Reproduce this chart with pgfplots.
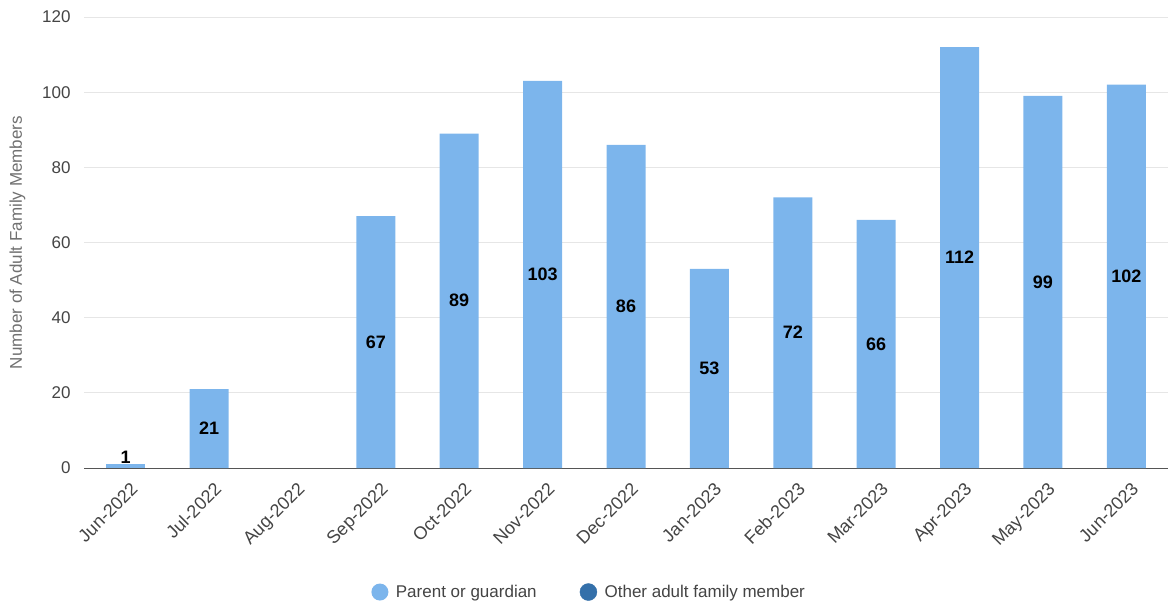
\documentclass[border=0pt]{standalone}
\usepackage{pgfplots}
\pgfplotsset{compat=1.18}
\usepackage{fontspec}
\setmainfont{Liberation Sans}
\definecolor{barblue}{HTML}{7CB5EC}
\definecolor{darkblue}{HTML}{3470AA}
\definecolor{gridgray}{HTML}{E6E6E6}
\definecolor{ticktext}{HTML}{444444}
\definecolor{labeltext}{HTML}{707070}
\definecolor{axisgray}{HTML}{555555}
\newcommand{\fs}{\fontsize{17bp}{20bp}\selectfont}
\newcommand{\fx}{\fontsize{18bp}{20bp}\selectfont}
\begin{document}
\begin{tikzpicture}
\begin{axis}[
  name=ax,
  scale only axis, width=1084bp, height=451bp,
  xmin=-0.5, xmax=12.5, ymin=0, ymax=120,
  ytick={0,20,...,120},
  xtick={0,...,12},
  xticklabels={Jun-2022,Jul-2022,Aug-2022,Sep-2022,Oct-2022,Nov-2022,Dec-2022,Jan-2023,Feb-2023,Mar-2023,Apr-2023,May-2023,Jun-2023},
  x tick label style={rotate=45, anchor=north east, font=\fx, text=ticktext, yshift=-9bp, xshift=-3bp},
  y tick label style={font=\fs, text=ticktext, xshift=-10bp},
  /pgf/number format/assume math mode=true,
  major tick length=0pt,
  axis x line*=bottom, axis y line*=left,
  y axis line style={draw=none},
  x axis line style={draw=axisgray, line width=0.8bp},
  ymajorgrids, grid style={draw=gridgray, line width=0.8bp},
  ylabel={Number of Adult Family Members},
  every axis y label/.style={at={(axis description cs:-0.0613,0.5)}, rotate=90, anchor=center, font=\fs, text=labeltext},
  ybar, bar width=39bp, bar shift=0pt,
  legend style={at={(axis description cs:0.466,-0.275)}, anchor=center, legend columns=2, draw=none, font=\fs, text=ticktext,
    /tikz/every even column/.append style={column sep=41bp}},
  legend cell align=left,
  clip=false,
]
\addplot[fill=barblue, draw=none,
  nodes near coords,
  visualization depends on=rawy \as \rawy,
  every node near coord/.append style={anchor=center, yshift={-1.8862*\rawy}, font=\fx\bfseries, text=black},
  legend image code/.code={\fill[barblue] (0bp,0bp) circle (8.5bp); \path (14bp,0bp);}]
  coordinates {(1,21) (3,67) (4,89) (5,103) (6,86) (7,53) (8,72) (9,66) (10,112) (11,99) (12,102)};
\addlegendentry{Parent or guardian}
\addplot[fill=barblue, draw=none, forget plot,
  nodes near coords,
  every node near coord/.append style={anchor=south, inner sep=1bp, font=\fx\bfseries, text=black}]
  coordinates {(0,1)};
\addlegendimage{legend image code/.code={\fill[darkblue] (0bp,0bp) circle (8.5bp); \path (14bp,0bp);}}
\addlegendentry{Other adult family member}
\end{axis}
\path ([xshift=-84bp,yshift=-135bp]ax.south west) rectangle ([xshift=3bp,yshift=17bp]ax.north east);
\end{tikzpicture}
\end{document}
